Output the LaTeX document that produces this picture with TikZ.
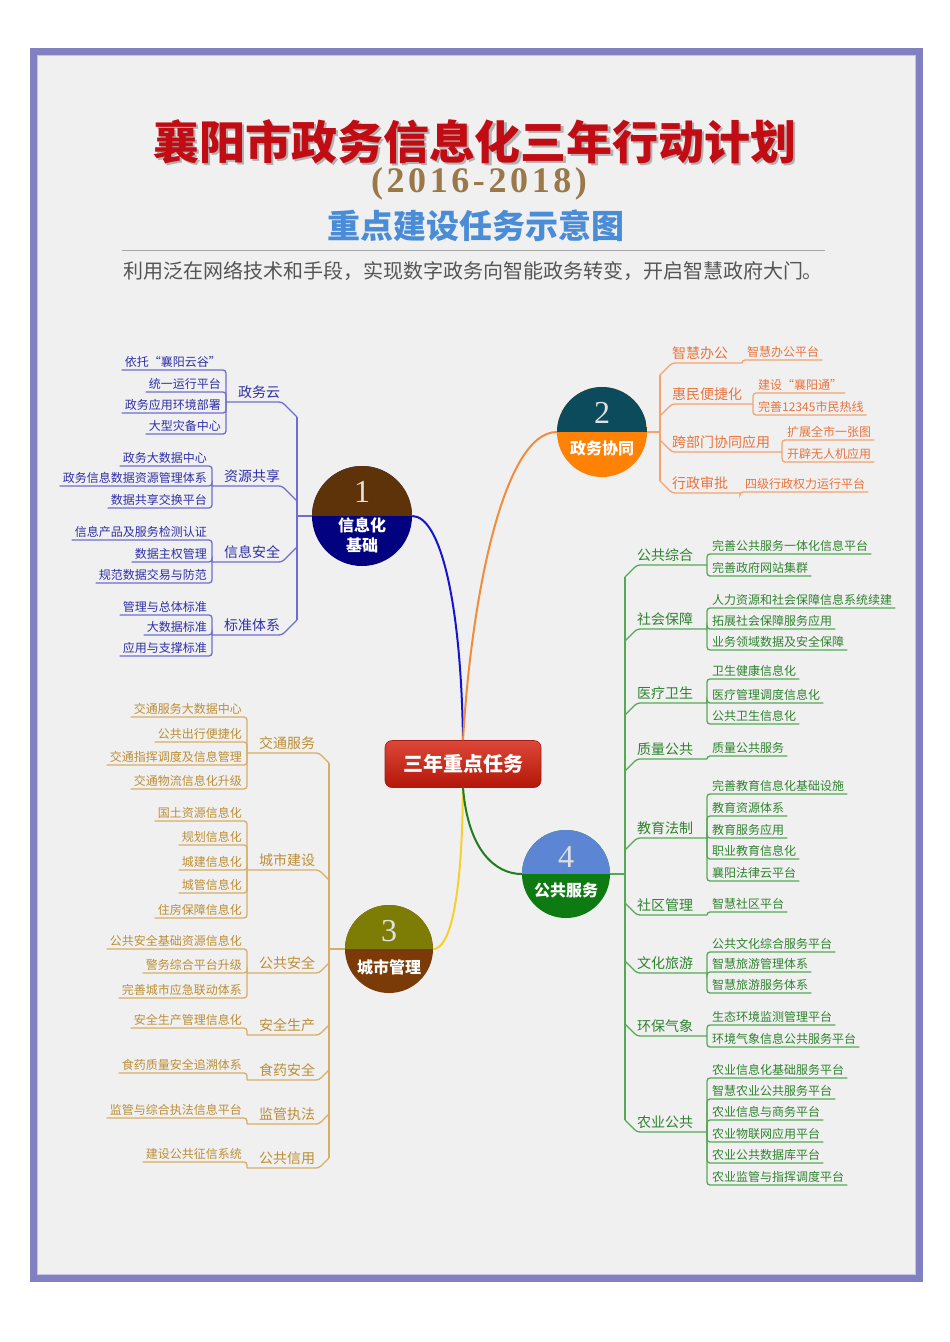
\documentclass[tikz,border=0pt]{standalone}
\usepackage{fontspec}
\newfontfamily\cjk{Noto Sans CJK SC}
\newfontfamily\yearfont{Liberation Serif}[LetterSpace=10]
\newfontfamily\numfont{Liberation Serif}
\definecolor{framecol}{HTML}{8181C1}
\definecolor{bgcol}{HTML}{F0F0F0}
\definecolor{titlered}{HTML}{C20C14}
\definecolor{yearcol}{HTML}{9A784A}
\definecolor{subblue}{HTML}{4A8CD6}
\definecolor{subgray}{HTML}{555555}
\definecolor{bAt}{HTML}{3030A5}
\definecolor{bAl}{HTML}{6E6ED2}
\definecolor{bBt}{HTML}{E8743E}
\definecolor{bBl}{HTML}{F3A46E}
\definecolor{bCt}{HTML}{BC8E36}
\definecolor{bCl}{HTML}{D6AE66}
\definecolor{bDt}{HTML}{2F832F}
\definecolor{bDl}{HTML}{55A855}
\definecolor{c1top}{HTML}{5E3309}
\definecolor{c1bot}{HTML}{020280}
\definecolor{c2top}{HTML}{0C4B5C}
\definecolor{c2bot}{HTML}{FF8205}
\definecolor{c3top}{HTML}{7D7D05}
\definecolor{c3bot}{HTML}{7A3B08}
\definecolor{c4top}{HTML}{5C86D4}
\definecolor{c4bot}{HTML}{0D7A12}
\definecolor{conA}{HTML}{1515D0}
\definecolor{conB}{HTML}{F28C3C}
\definecolor{conC}{HTML}{F5D032}
\definecolor{conD}{HTML}{1E7E1E}
\tikzset{
  kid/.style={inner sep=0pt, font=\cjk\fontsize{12}{14}\selectfont},
  par/.style={inner sep=0pt, font=\cjk\fontsize{14}{16}\selectfont},
  brline/.style={line width=1.3pt, rounded corners=3pt},
  bAtext/.style={text=bAt}, bAline/.style={brline, draw=bAl},
  bBtext/.style={text=bBt}, bBline/.style={brline, draw=bBl},
  bCtext/.style={text=bCt}, bCline/.style={brline, draw=bCl},
  bDtext/.style={text=bDt}, bDline/.style={brline, draw=bDl},
  ball/.style 2 args={circle, inner sep=0pt, fill=#2,
    path picture={\fill[#1] (path picture bounding box.north west) rectangle (path picture bounding box.east);}},
  numtxt/.style={inner sep=0pt, text=white!88!black, font=\numfont\fontsize{32}{34}\selectfont},
  balltxt/.style={inner sep=0pt, text=white, align=center, font=\cjk\bfseries\fontsize{16}{20}\selectfont},
  ctrbox/.style={rounded corners=7pt, minimum width=156pt, minimum height=47pt,
    top color={rgb,255:red,222;green,72;blue,56}, bottom color={rgb,255:red,178;green,22;blue,8},
    draw={rgb,255:red,160;green,30;blue,20}, line width=0.6pt, text=white,
    font=\cjk\bfseries\fontsize{20}{22}\selectfont},
  conn/.style={line width=2pt}
}
% left child: name, bracket x, underline y, parent y, text, branch
\newcommand\LKid[6]{%
  \node[kid, #6text, anchor=base east] (#1) at ({#2-5},{#3-4}) {#5};
  \draw[#6line] (#1.base west) ++(-3,4) -| (#2,#4);
}
% left parent: name, bracket x, parent y, trunk x, dy, text, branch
\newcommand\LPar[7]{%
  \node[par, #7text, anchor=base west] (#1) at ({#2+12},{#3-5}) {#6};
  \draw[#7line] (#2,#3) -- ({#4-abs(#5)},#3) -- (#4,{#3+#5});
}
% right child
\newcommand\RKid[6]{%
  \node[kid, #6text, anchor=base west] (#1) at ({#2+5},{#3-4}) {#5};
  \draw[#6line] (#1.base east) ++(3,4) -| (#2,#4);
}
% right parent
\newcommand\RPar[7]{%
  \node[par, #7text, anchor=base west] (#1) at ({#4+abs(#5)},{#3-5}) {#6};
  \draw[#7line] (#2,#3) -- ({#4+abs(#5)},#3) -- (#4,{#3+#5});
}
\begin{document}
\begin{tikzpicture}[x=1pt,y=-1pt]
\useasboundingbox (0,0) rectangle (950,1342);
\fill[white] (0,0) rectangle (950,1342);
\fill[framecol] (30,48) rectangle (923,1282);
\fill[bgcol] (37,55) rectangle (916,1275);
\draw[framecol!45!white, line width=0.8pt] (37.4,55.4) rectangle (915.6,1274.6);

% titles
\node[inner sep=0pt, text=black!60, opacity=0.45, font=\cjk\bfseries\fontsize{46}{50}\selectfont] (tsh) at (477,144) {襄阳市政务信息化三年行动计划};
\node[inner sep=0pt, text=titlered, font=\cjk\bfseries\fontsize{46}{50}\selectfont] (title) at (475,142) {襄阳市政务信息化三年行动计划};
\node[inner sep=0pt, text=yearcol, font=\yearfont\bfseries\fontsize{36}{40}\selectfont] (years) at (479,184) {(2016-2018)};
\node[inner sep=0pt, text=subblue, font=\cjk\bfseries\fontsize{33}{36}\selectfont] (sub2) at (476,226) {重点建设任务示意图};
\draw[black!35, line width=1pt] (122,250) -- (825,250);
\node[inner sep=0pt, text=subgray, font=\cjk\fontsize{20}{24}\selectfont] (sub) at (473,271) {利用泛在网络技术和手段，实现数字政务向智能政务转变，开启智慧政府大门。};

% circles and centre
\node[ball={c1top}{c1bot}, minimum size=100pt] (c1) at (362,516) {};
\node[numtxt] (n1) at (362,492) {1};
\node[balltxt] (l1) at (362,535) {信息化\\基础};
\node[ball={c2top}{c2bot}, minimum size=90pt] (c2) at (602,432) {};
\node[numtxt] (n2) at (602,413) {2};
\node[balltxt] (l2) at (602,448) {政务协同};
\node[ball={c3top}{c3bot}, minimum size=88pt] (c3) at (389,949) {};
\node[numtxt] (n3) at (389,931) {3};
\node[balltxt] (l3) at (389,967) {城市管理};
\node[ball={c4top}{c4bot}, minimum size=88pt] (c4) at (566,874) {};
\node[numtxt] (n4) at (566,857) {4};
\node[balltxt] (l4) at (566,890) {公共服务};
\node[ctrbox] (ctr) at (463,764) {三年重点任务};

% main connectors
\draw[conn, conA] (ctr.north) .. controls (461,600) and (440,516) .. (c1.east);
\draw[conn, conB] (ctr.north) .. controls (471,600) and (503,432) .. (c2.west);
\draw[conn, conC] (ctr.south) .. controls (462,900) and (450,949) .. (c3.east);
\draw[conn, conD] (ctr.south) .. controls (468,850) and (495,874) .. (c4.west);

% ---------- branch 1 ----------
\draw[bAline] (297,417) -- (297,620);
\draw[bAline] (297,516) -- (c1.west);
\LPar{p11}{226}{402}{297}{15}{政务云}{bA}
\LKid{k111}{226}{370}{402}{依托“襄阳云谷”}{bA}
\LKid{k112}{226}{392}{402}{统一运行平台}{bA}
\LKid{k113}{226}{413}{402}{政务应用环境部署}{bA}
\LKid{k114}{226}{434}{402}{大型灾备中心}{bA}
\LPar{p12}{212}{486}{297}{15}{资源共享}{bA}
\LKid{k121}{212}{466}{486}{政务大数据中心}{bA}
\LKid{k122}{212}{486}{486}{政务信息数据资源管理体系}{bA}
\LKid{k123}{212}{508}{486}{数据共享交换平台}{bA}
\LPar{p13}{212}{562}{297}{-15}{信息安全}{bA}
\LKid{k131}{212}{540}{562}{信息产品及服务检测认证}{bA}
\LKid{k132}{212}{562}{562}{数据主权管理}{bA}
\LKid{k133}{212}{583}{562}{规范数据交易与防范}{bA}
\LPar{p14}{212}{635}{297}{-15}{标准体系}{bA}
\LKid{k141}{212}{615}{635}{管理与总体标准}{bA}
\LKid{k142}{212}{635}{635}{大数据标准}{bA}
\LKid{k143}{212}{656}{635}{应用与支撑标准}{bA}

% ---------- branch 2 ----------
\draw[bBline] (660,375) -- (660,481);
\draw[bBline] (c2.east) -- (660,432);
\RPar{p21}{742}{363}{660}{12}{智慧办公}{bB}
\RKid{k211}{742}{360}{363}{智慧办公平台}{bB}
\RPar{p22}{753}{404}{660}{12}{惠民便捷化}{bB}
\RKid{k221}{753}{393}{404}{建设“襄阳通”}{bB}
\RKid{k222}{753}{415}{404}{完善12345市民热线}{bB}
\RPar{p23}{782}{452}{660}{-12}{跨部门协同应用}{bB}
\RKid{k231}{782}{440}{452}{扩展全市一张图}{bB}
\RKid{k232}{782}{462}{452}{开辟无人机应用}{bB}
\RPar{p24}{740}{493}{660}{-12}{行政审批}{bB}
\RKid{k241}{740}{492}{493}{四级行政权力运行平台}{bB}

% ---------- branch 3 ----------
\draw[bCline] (329,763) -- (329,1158);
\draw[bCline] (329,949) -- (c3.west);
\LPar{p31}{247}{753}{329}{10}{交通服务}{bC}
\LKid{k311}{247}{717}{753}{交通服务大数据中心}{bC}
\LKid{k312}{247}{742}{753}{公共出行便捷化}{bC}
\LKid{k313}{247}{765}{753}{交通指挥调度及信息管理}{bC}
\LKid{k314}{247}{789}{753}{交通物流信息化升级}{bC}
\LPar{p32}{247}{870}{329}{10}{城市建设}{bC}
\LKid{k321}{247}{821}{870}{国土资源信息化}{bC}
\LKid{k322}{247}{845}{870}{规划信息化}{bC}
\LKid{k323}{247}{870}{870}{城建信息化}{bC}
\LKid{k324}{247}{893}{870}{城管信息化}{bC}
\LKid{k325}{247}{918}{870}{住房保障信息化}{bC}
\LPar{p33}{247}{973}{329}{-10}{公共安全}{bC}
\LKid{k331}{247}{949}{973}{公共安全基础资源信息化}{bC}
\LKid{k332}{247}{973}{973}{警务综合平台升级}{bC}
\LKid{k333}{247}{998}{973}{完善城市应急联动体系}{bC}
\LPar{p34}{247}{1035}{329}{-10}{安全生产}{bC}
\LKid{k341}{247}{1028}{1035}{安全生产管理信息化}{bC}
\LPar{p35}{247}{1080}{329}{-10}{食药安全}{bC}
\LKid{k351}{247}{1073}{1080}{食药质量安全追溯体系}{bC}
\LPar{p36}{247}{1124}{329}{-10}{监管执法}{bC}
\LKid{k361}{247}{1118}{1124}{监管与综合执法信息平台}{bC}
\LPar{p37}{247}{1168}{329}{-10}{公共信用}{bC}
\LKid{k371}{247}{1162}{1168}{建设公共征信系统}{bC}

% ---------- branch 4 ----------
\draw[bDline] (625,577) -- (625,1120);
\draw[bDline] (c4.east) -- (625,874);
\RPar{p41}{707}{565}{625}{12}{公共综合}{bD}
\RKid{k411}{707}{554}{565}{完善公共服务一体化信息平台}{bD}
\RKid{k412}{707}{576}{565}{完善政府网站集群}{bD}
\RPar{p42}{707}{629}{625}{12}{社会保障}{bD}
\RKid{k421}{707}{608}{629}{人力资源和社会保障信息系统续建}{bD}
\RKid{k422}{707}{629}{629}{拓展社会保障服务应用}{bD}
\RKid{k423}{707}{650}{629}{业务领域数据及安全保障}{bD}
\RPar{p43}{707}{703}{625}{12}{医疗卫生}{bD}
\RKid{k431}{707}{679}{703}{卫生健康信息化}{bD}
\RKid{k432}{707}{703}{703}{医疗管理调度信息化}{bD}
\RKid{k433}{707}{724}{703}{公共卫生信息化}{bD}
\RPar{p44}{707}{759}{625}{12}{质量公共}{bD}
\RKid{k441}{707}{756}{759}{质量公共服务}{bD}
\RPar{p45}{707}{838}{625}{12}{教育法制}{bD}
\RKid{k451}{707}{794}{838}{完善教育信息化基础设施}{bD}
\RKid{k452}{707}{816}{838}{教育资源体系}{bD}
\RKid{k453}{707}{838}{838}{教育服务应用}{bD}
\RKid{k454}{707}{859}{838}{职业教育信息化}{bD}
\RKid{k455}{707}{881}{838}{襄阳法律云平台}{bD}
\RPar{p46}{707}{915}{625}{-12}{社区管理}{bD}
\RKid{k461}{707}{912}{915}{智慧社区平台}{bD}
\RPar{p47}{707}{973}{625}{-12}{文化旅游}{bD}
\RKid{k471}{707}{952}{973}{公共文化综合服务平台}{bD}
\RKid{k472}{707}{972}{973}{智慧旅游管理体系}{bD}
\RKid{k473}{707}{993}{973}{智慧旅游服务体系}{bD}
\RPar{p48}{707}{1036}{625}{-12}{环保气象}{bD}
\RKid{k481}{707}{1025}{1036}{生态环境监测管理平台}{bD}
\RKid{k482}{707}{1047}{1036}{环境气象信息公共服务平台}{bD}
\RPar{p49}{707}{1132}{625}{-12}{农业公共}{bD}
\RKid{k491}{707}{1078}{1132}{农业信息化基础服务平台}{bD}
\RKid{k492}{707}{1099}{1132}{智慧农业公共服务平台}{bD}
\RKid{k493}{707}{1120}{1132}{农业信息与商务平台}{bD}
\RKid{k494}{707}{1142}{1132}{农业物联网应用平台}{bD}
\RKid{k495}{707}{1163}{1132}{农业公共数据库平台}{bD}
\RKid{k496}{707}{1185}{1132}{农业监管与指挥调度平台}{bD}
\end{tikzpicture}
\end{document}
